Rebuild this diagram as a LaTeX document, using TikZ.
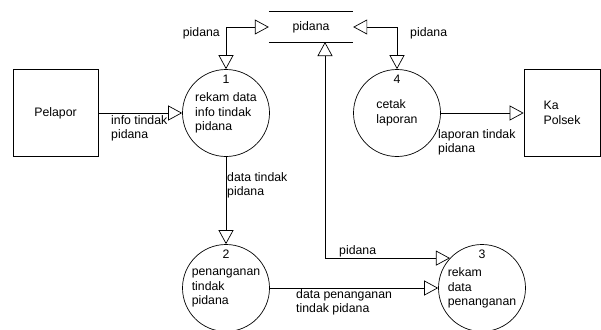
\documentclass[tikz,border=0pt]{standalone}
\usepackage{fontspec}
\setmainfont{Liberation Sans}
\usetikzlibrary{arrows.meta}

\begin{document}
\begin{tikzpicture}[x=1pt,y=-1pt,
    font=\fontsize{12.3}{14.5}\selectfont,
    flow/.style={-{Triangle[open,length=14pt,width=15pt]},line width=0.7pt},
    twoway/.style={{Triangle[open,length=14pt,width=15pt]}-{Triangle[open,length=14pt,width=15pt]},line width=0.7pt},
    proc/.style={circle,draw,line width=0.7pt,minimum size=87pt,inner sep=0pt,align=left},
    ent/.style={rectangle,draw,line width=0.7pt,minimum height=87pt,align=left},
    lbl/.style={align=left,inner sep=1pt}]
            \useasboundingbox (0,0) rectangle (601,329);

            \node[ent,minimum width=85pt] (pelapor) at (55.5,113) {Pelapor};
            \node[ent,minimum width=76pt] (kapolsek) at (562,113) {Ka\\Polsek};

            \node[minimum width=84pt,minimum height=30pt,inner sep=0pt] (store) at (311,27) {pidana};
            \draw[line width=0.7pt] (store.north west) -- (store.north east);
            \draw[line width=0.7pt] (store.south west) -- (store.south east);
            \coordinate (storeb) at (325,42);

            \node[proc,label={[anchor=north,inner sep=6pt]north:1}] (p1) at (226,113) {rekam data\\info tindak\\pidana};
            \node[proc,label={[anchor=north,inner sep=6pt]north:2}] (p2) at (226,288) {penanganan\\tindak\\pidana};
            \node[proc,label={[anchor=north,inner sep=6pt]north:3}] (p3) at (482,288) {rekam\\data\\penanganan};
            \node[proc,label={[anchor=north,inner sep=6pt]north:4}] (p4) at (397,113) {cetak\\laporan};

            \draw[flow] (pelapor.east) -- (p1.west);
            \draw[twoway] (store.west) -| (p1.north);
            \draw[twoway] (store.east) -| (p4.north);
            \draw[flow] (p4.east) -- (kapolsek.west);
            \draw[flow] (p1.south) -- (p2.north);
            \draw[flow] (p2.east) -- (p3.west);
            \draw[twoway] (storeb) |- (p3.137);

            \node[lbl,anchor=north west] (l1) at (110,114) {info tindak\\pidana};
            \node[lbl,anchor=east] (l2) at (221,33) {pidana};
            \node[lbl,anchor=west] (l3) at (409,33) {pidana};
            \node[lbl,anchor=north west] (l4) at (437,128) {laporan tindak\\pidana};
            \node[lbl,anchor=north west] (l5) at (226,171) {data tindak\\pidana};
            \node[lbl,anchor=west] (l6) at (338,251) {pidana};
            \node[lbl,anchor=north west] (l7) at (295,288) {data penanganan\\tindak pidana};
        \end{tikzpicture}
\end{document}
